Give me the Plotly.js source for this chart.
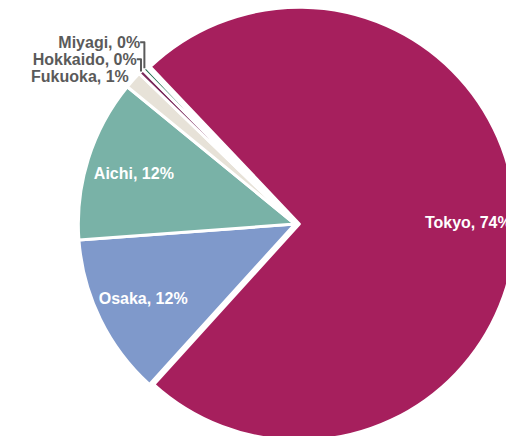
<!DOCTYPE html>
<html>
<head>
<meta charset="utf-8">
<script src="https://cdn.plot.ly/plotly-3.0.1.min.js"></script>
<style>
html,body{margin:0;padding:0;width:506px;height:436px;overflow:hidden;background:#fff;}
#chart{position:absolute;left:0;top:3px;width:590px;height:442px;}
</style>
</head>
<body>
<div id="chart"></div>
<script>
const labels = ["Tokyo", "Osaka", "Aichi", "Fukuoka", "Hokkaido", "Miyagi"];
const shares = [73.8, 12.1, 12.1, 1.3, 0.4, 0.3];
const colors = ["#A61F5D", "#7F99CB", "#79B2A7", "#E7E2D8", "#7A2C5D", "#1D6A4B"];
const positions = ["inside", "inside", "inside", "outside", "outside", "outside"];
const pulls = [0.02, 0, 0, 0, 0, 0];

const fontFam = "Liberation Sans, Arial, sans-serif";
const common = {
  type: "pie",
  labels: labels,
  values: shares,
  sort: false,
  direction: "clockwise",
  rotation: -43.5,
  pull: pulls,
  hoverinfo: "none",
  showlegend: false
};

// full pie body (no text)
const body = Object.assign({}, common, {
  textinfo: "none",
  marker: {colors: colors, line: {color: "#ffffff", width: 3}}
});
// invisible ring layer that only carries the labels, placed toward the rim
const ring = Object.assign({}, common, {
  hole: 0.56,
  marker: {colors: labels.map(() => "rgba(0,0,0,0)"), line: {width: 0}},
  texttemplate: "%{label}, %{percent:.0%}",
  textposition: positions,
  insidetextorientation: "horizontal",
  insidetextfont: {family: fontFam, size: 16, color: "#ffffff", weight: "bold"},
  outsidetextfont: {family: fontFam, size: 16, color: "#5a5a5a", weight: "bold"}
});

Plotly.newPlot("chart", [body, ring], {
  width: 590,
  height: 442,
  margin: {l: 0, r: 0, t: 0, b: 0},
  showlegend: false,
  paper_bgcolor: "#ffffff",
  font: {family: fontFam}
}, {displayModeBar: false, staticPlot: true});
</script>
</body>
</html>
